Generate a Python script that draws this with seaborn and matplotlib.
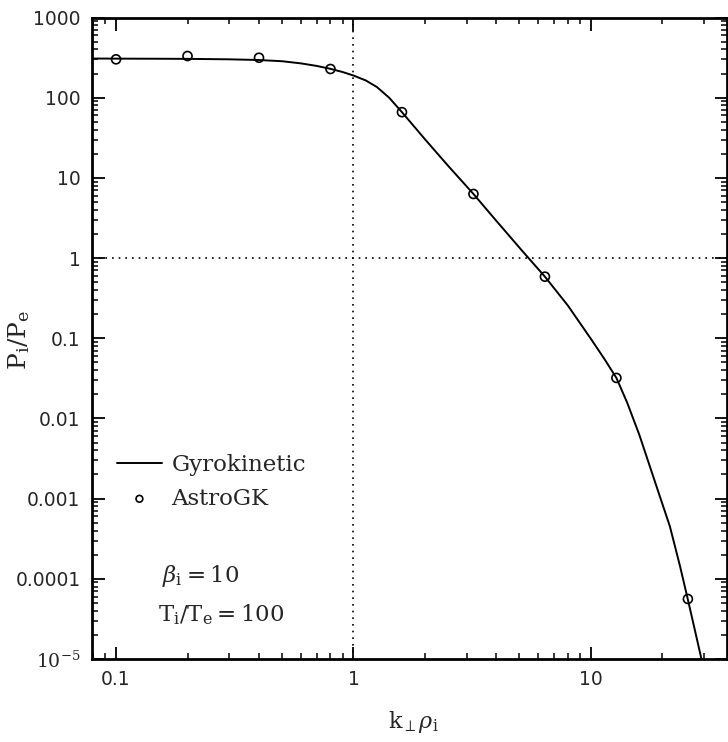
import numpy as np
import pandas as pd
import matplotlib
matplotlib.use("Agg")
import matplotlib.pyplot as plt
import matplotlib.ticker as mticker
import seaborn as sns

# ---- data ----
curve_k = [0.079, 0.1, 0.15, 0.2, 0.3, 0.4, 0.5, 0.6, 0.7, 0.8, 0.9, 1.0, 1.127,
           1.254, 1.413, 1.6, 2.0, 2.5, 3.2, 4.0, 5.11, 6.4, 8.0, 10.0, 11.4,
           12.8, 14.2, 16.0, 18.9, 21.5, 23.7, 25.6, 29.2, 30.5]
curve_ratio = [308, 307, 306, 305, 301, 295, 285, 268, 249, 229, 209, 189, 164,
               136, 100, 66, 30.3, 14.2, 6.3, 2.9, 1.25, 0.586, 0.255, 0.098, 0.055,
               0.032, 0.0158, 0.0062, 0.00141, 4.5e-4, 1.45e-4, 5.5e-5, 1.0e-5,
               5.5e-6]
gk_k = [0.1, 0.2, 0.4, 0.8, 1.6, 3.2, 6.4, 12.8, 25.6]
gk_ratio = [301, 331, 315, 228, 66, 6.3, 0.586, 0.032, 5.6e-5]

x_ticks = [0.1, 1, 10]
x_tick_labels = ["0.1", "1", "10"]
y_ticks = [1e3, 1e2, 1e1, 1, 1e-1, 1e-2, 1e-3, 1e-4, 1e-5]
y_tick_labels = ["1000", "100", "10", "1", "0.1", "0.01", "0.001", "0.0001",
                 r"$10^{-5}$"]

sns.set_style("ticks")
plt.rcParams["font.family"] = ["DejaVu Serif"]
plt.rcParams["mathtext.fontset"] = "dejavuserif"

fig = plt.figure(figsize=(7.28, 7.42), dpi=100)
ax = fig.add_axes([0.126, 0.1119, 0.8726, 0.8645])

df_line = pd.DataFrame({"k": curve_k, "r": curve_ratio})
df_pts = pd.DataFrame({"k": gk_k, "r": gk_ratio})

ax.set_xscale("log")
ax.set_yscale("log")

ax.axvline(1, color="black", linestyle=(0, (1, 3)), linewidth=1.2, zorder=1)
ax.axhline(1, color="black", linestyle=(0, (1, 3)), linewidth=1.2, zorder=1)

sns.lineplot(data=df_line, x="k", y="r", ax=ax, color="black", linewidth=1.4,
             label="Gyrokinetic", sort=True, estimator=None)
sns.scatterplot(data=df_pts, x="k", y="r", ax=ax, marker="o", s=42,
                facecolor="none", edgecolor="black", linewidth=1.2,
                label="AstroGK", zorder=3)

ax.set_xlim(0.079, 37.4)
ax.set_ylim(1e-5, 1e3)

ax.xaxis.set_major_locator(mticker.FixedLocator(x_ticks))
ax.xaxis.set_major_formatter(mticker.FixedFormatter(x_tick_labels))
ax.xaxis.set_minor_locator(mticker.LogLocator(base=10, subs=np.arange(2, 10)))
ax.xaxis.set_minor_formatter(mticker.NullFormatter())
ax.yaxis.set_major_locator(mticker.FixedLocator(y_ticks))
ax.yaxis.set_major_formatter(mticker.FixedFormatter(y_tick_labels))
ax.yaxis.set_minor_locator(mticker.LogLocator(base=10, subs=np.arange(2, 10), numticks=20))
ax.yaxis.set_minor_formatter(mticker.NullFormatter())

ax.tick_params(which="both", direction="in", top=True, right=True, color="black")
ax.tick_params(which="major", length=9, width=1.3, labelsize=13.5, pad=8)
ax.tick_params(which="minor", length=4.5, width=1.1)
for lab in ax.get_xticklabels() + ax.get_yticklabels():
    lab.set_fontfamily("DejaVu Sans")

for sp in ax.spines.values():
    sp.set_linewidth(2.0)
    sp.set_color("black")

ax.set_xlabel(r"$\mathrm{k}_{\perp}\rho_{\mathrm{i}}$", fontsize=16)
ax.set_ylabel(r"$\mathrm{P_i/P_e}$", fontsize=18)
ax.xaxis.set_label_coords(0.507, -0.078)
ax.yaxis.set_label_coords(-0.094, 0.497)

leg = ax.legend(loc="upper left", bbox_to_anchor=(0.039, 0.319), frameon=False,
                fontsize=16.5, handlelength=2.0, handletextpad=0.4,
                labelspacing=0.5, markerscale=0.75, borderpad=0,
                borderaxespad=0)

ax.text(0.11, 0.12, r"$\beta_{\mathrm{i}}=10$", transform=ax.transAxes,
        fontsize=16.5, va="baseline", ha="left")
ax.text(0.104, 0.059, r"$\mathrm{T_i/T_e}=100$", transform=ax.transAxes,
        fontsize=16.5, va="baseline", ha="left")

fig.savefig("out.png", dpi=100)
